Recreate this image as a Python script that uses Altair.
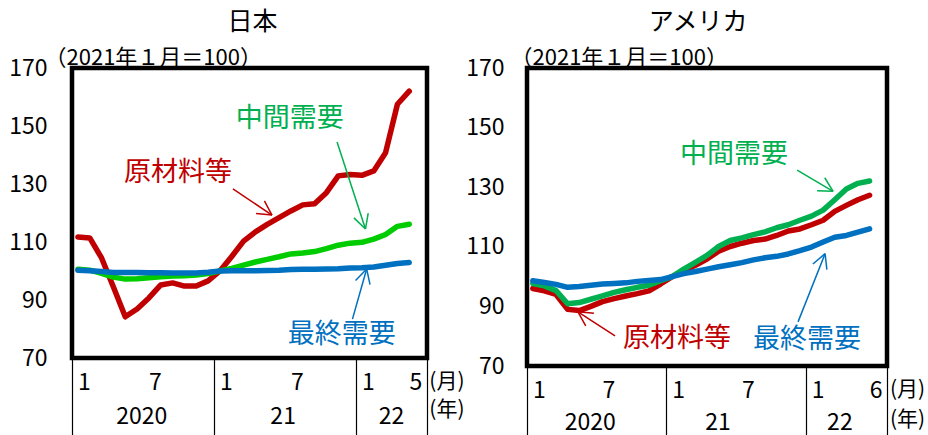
import math
import altair as alt
import pandas as pd

FONT = "Noto Sans CJK JP"

# Monthly price indices (2021年1月 = 100)
# 日本: 2020年1月 - 2022年5月
jp_raw = [111.7, 111.4, 104.5, 94.5, 84.2, 86.9, 90.7, 95.2, 95.9, 94.8, 94.8, 96.6,
          100.0, 105.0, 110.3, 113.5, 116.1, 118.4, 120.7, 122.8, 123.2, 127.0, 132.8, 133.3,
          133.0, 134.5, 140.8, 157.5, 162.0]
jp_mid = [100.6, 100.3, 99.2, 97.9, 97.2, 97.3, 97.7, 98.0, 98.3, 98.4, 98.6, 99.1,
          100.0, 100.9, 102.0, 103.1, 104.0, 104.9, 105.9, 106.2, 106.7, 107.7, 108.9, 109.6,
          109.9, 111.0, 112.6, 115.4, 116.1]
jp_final = [100.3, 100.1, 99.8, 99.5, 99.5, 99.5, 99.4, 99.4, 99.3, 99.3, 99.3, 99.6,
            100.0, 100.1, 100.1, 100.1, 100.2, 100.3, 100.5, 100.6, 100.6, 100.7, 100.8, 101.0,
            101.1, 101.4, 102.0, 102.6, 102.9]

# アメリカ: 2020年1月 - 2022年6月
us_raw = [96.0, 95.2, 94.0, 89.0, 88.6, 90.0, 91.6, 92.6, 93.5, 94.3, 95.2, 97.5,
          100.0, 102.0, 103.8, 105.9, 108.5, 110.1, 111.2, 112.1, 112.6, 113.8, 115.3, 116.0,
          117.4, 118.9, 121.9, 123.9, 125.8, 127.3]
us_mid = [97.7, 96.9, 95.3, 90.9, 91.3, 92.4, 93.5, 94.7, 95.6, 96.4, 97.1, 98.6,
          100.0, 102.5, 104.8, 107.1, 110.1, 112.1, 113.0, 114.1, 115.0, 116.4, 117.4, 118.9,
          120.3, 122.3, 125.8, 129.4, 131.3, 132.1]
us_final = [98.6, 98.0, 97.4, 96.4, 96.7, 97.1, 97.5, 97.7, 97.9, 98.4, 98.7, 99.0,
            100.0, 101.0, 101.7, 102.5, 103.3, 104.0, 104.7, 105.6, 106.3, 106.8, 107.6, 108.7,
            109.9, 111.6, 113.2, 113.8, 114.9, 116.0]

series_names = ["原材料等", "中間需要", "最終需要"]
y_ticks = [70, 90, 110, 130, 150, 170]
jp_month_ticks = [0, 6, 12, 18, 24, 28]
jp_month_labels = ["1", "7", "1", "7", "1", "5"]
us_month_ticks = [0, 6, 12, 18, 24, 29]
us_month_labels = ["1", "7", "1", "7", "1", "6"]
year_labels = ["2020", "21", "22"]
unit_labels = ["(月)", "(年)"]
base_note = "（2021年１月＝100）"

RED = "#C00000"
GREEN_TEXT = "#00B050"
BLUE = "#0070C0"


def label_expr(values, labels):
    expr = "''"
    for v, t in reversed(list(zip(values, labels))):
        expr = f"datum.value == {v} ? '{t}' : ({expr})"
    return expr


def arrow_segments(start, tip, color, sx, sy, head=16, spread=28):
    """Shaft plus two barbs at the tip; barb length is in pixels."""
    x0, y0 = start
    x1, y1 = tip
    ang = math.atan2((y1 - y0) * sy, (x1 - x0) * sx)
    rows = [dict(x=x0, y=y0, x2=x1, y2=y1, color=color)]
    for sgn in (1, -1):
        a = ang + math.pi + sgn * math.radians(spread)
        rows.append(dict(x=x1, y=y1, x2=x1 + head * math.cos(a) / sx,
                         y2=y1 + head * math.sin(a) / sy, color=color))
    return rows


def panel(title, title_dx, raw, mid, final, mid_color, n_slots, width, height,
          label_pad, note_x, year_pad, month_ticks, month_labels, year_pos, unit_x,
          unit_dy, notes, arrows):
    sx = width / n_slots
    sy = height / 100.0
    xs = alt.Scale(domain=[0, n_slots], nice=False, zero=False)
    ys = alt.Scale(domain=[70, 170], nice=False, zero=False)

    # one shared y axis definition, repeated on every layer so the merge is clean
    y_axis = alt.Axis(
        values=y_ticks, labelFontSize=23, labelFont=FONT, labelColor="black",
        labelPadding=label_pad, ticks=False, tickSize=0, domain=False, grid=False,
        title=base_note, titleFont=FONT, titleFontSize=22, titleFontWeight="normal",
        titleColor="black", titleAngle=0, titleAlign="left", titleBaseline="alphabetic",
        titleX=note_x, titleY=-4,
    )
    sep_axis = alt.Axis(
        orient="bottom", values=[0, 12, 24, n_slots], labels=False, ticks=True,
        tickSize=80, tickWidth=1.2, tickColor="black", domain=False, grid=False, title=None,
    )
    m_vals = [m + 0.5 for m in month_ticks]
    month_axis = alt.Axis(
        orient="bottom", values=m_vals, labelExpr=label_expr(m_vals, month_labels),
        labelFontSize=23, labelFont=FONT, labelColor="black", labelPadding=13,
        labelOffset=6, labelFlush=False, labelOverlap=False, ticks=False, tickSize=0,
        domain=False, grid=False, title=None,
    )
    year_axis = alt.Axis(
        orient="bottom", values=list(year_pos), labelExpr=label_expr(year_pos, year_labels),
        labelFontSize=23, labelFont=FONT, labelColor="black", labelPadding=year_pad,
        labelFlush=False, labelOverlap=False, ticks=False, tickSize=0,
        domain=False, grid=False, title=None,
    )

    def line(vals, color, x_axis):
        df = pd.DataFrame({"slot": [i + 0.5 for i in range(len(vals))], "value": vals})
        return alt.Chart(df).mark_line(
            color=color, strokeWidth=5.5, strokeJoin="round", strokeCap="round"
        ).encode(
            x=alt.X("slot:Q", scale=xs, axis=x_axis),
            y=alt.Y("value:Q", scale=ys, axis=y_axis),
        )

    red_line = line(raw, RED, sep_axis)
    mid_line = line(mid, mid_color, month_axis)
    final_line = line(final, BLUE, year_axis)

    arrow_rows = []
    for start, tip, color in arrows:
        arrow_rows += arrow_segments(start, tip, color, sx, sy)
    arrow_layer = alt.Chart(pd.DataFrame(arrow_rows)).mark_rule(strokeWidth=1.5).encode(
        x=alt.X("x:Q", scale=xs, axis=None),
        y=alt.Y("y:Q", scale=ys, axis=y_axis),
        x2="x2:Q",
        y2="y2:Q",
        color=alt.Color("color:N", scale=None),
    )
    text_layer = alt.Chart(pd.DataFrame(notes)).mark_text(
        font=FONT, fontSize=27, align="center", baseline="middle"
    ).encode(
        x=alt.X("x:Q", scale=xs, axis=None),
        y=alt.Y("y:Q", scale=ys, axis=y_axis),
        text="text:N",
        color=alt.Color("color:N", scale=None),
    )

    # (月) / (年) unit captions to the right of the month and year rows
    unit_layers = [
        alt.Chart(pd.DataFrame({"x": [unit_x], "t": [txt]})).mark_text(
            font=FONT, fontSize=21, align="left", baseline="middle", color="black"
        ).encode(
            x=alt.X("x:Q", scale=xs, axis=None),
            y=alt.value(height + dy),
            text="t:N",
        )
        for txt, dy in zip(unit_labels, unit_dy)
    ]

    return alt.layer(
        red_line, mid_line, final_line, arrow_layer, text_layer, *unit_layers
    ).resolve_axis(x="independent").properties(
        width=width,
        height=height,
        title=alt.Title(
            title, font=FONT, fontSize=25, fontWeight="normal", color="black",
            frame="group", anchor="middle", dx=title_dx, offset=11,
        ),
    )


japan = panel(
    "日本", 3, jp_raw, jp_mid, jp_final, "#00CC00", 30, 355, 290,
    25, -28, 47, jp_month_ticks, jp_month_labels, [5.85, 17.8, 26.95], 30.2, (24, 52),
    notes=[
        dict(x=8.96, y=133.8, text=series_names[0], color=RED),
        dict(x=18.4, y=152.4, text=series_names[1], color=GREEN_TEXT),
        dict(x=22.8, y=77.8, text=series_names[2], color=BLUE),
    ],
    arrows=[
        ((13.6, 128.3), (16.9, 119.3), RED),
        ((22.4, 144.5), (24.8, 114.5), GREEN_TEXT),
        ((23.7, 83.4), (24.9, 100.7), BLUE),
    ],
)

usa = panel(
    "アメリカ", -9, us_raw, us_mid, us_final, "#00B050", 31, 360, 298,
    23, -17, 45, us_month_ticks, us_month_labels, [5.4, 16.4, 26.9], 31.25, (24, 54),
    notes=[
        dict(x=12.92, y=79.1, text=series_names[0], color=RED),
        dict(x=17.83, y=140.7, text=series_names[1], color=GREEN_TEXT),
        dict(x=24.12, y=78.8, text=series_names[2], color=BLUE),
    ],
    arrows=[
        ((7.58, 80.1), (4.39, 88.2), RED),
        ((23.26, 135.7), (26.36, 128.6), GREEN_TEXT),
        ((23.34, 84.8), (25.67, 107.7), BLUE),
    ],
)

chart = alt.hconcat(japan, usa, spacing=-4).configure_view(
    stroke="black", strokeWidth=4.5
).properties(
    background="white",
    padding={"left": 6, "top": 7, "right": 0, "bottom": 0},
)

chart.save("out.html", embed_options={"renderer": "svg", "actions": False})
